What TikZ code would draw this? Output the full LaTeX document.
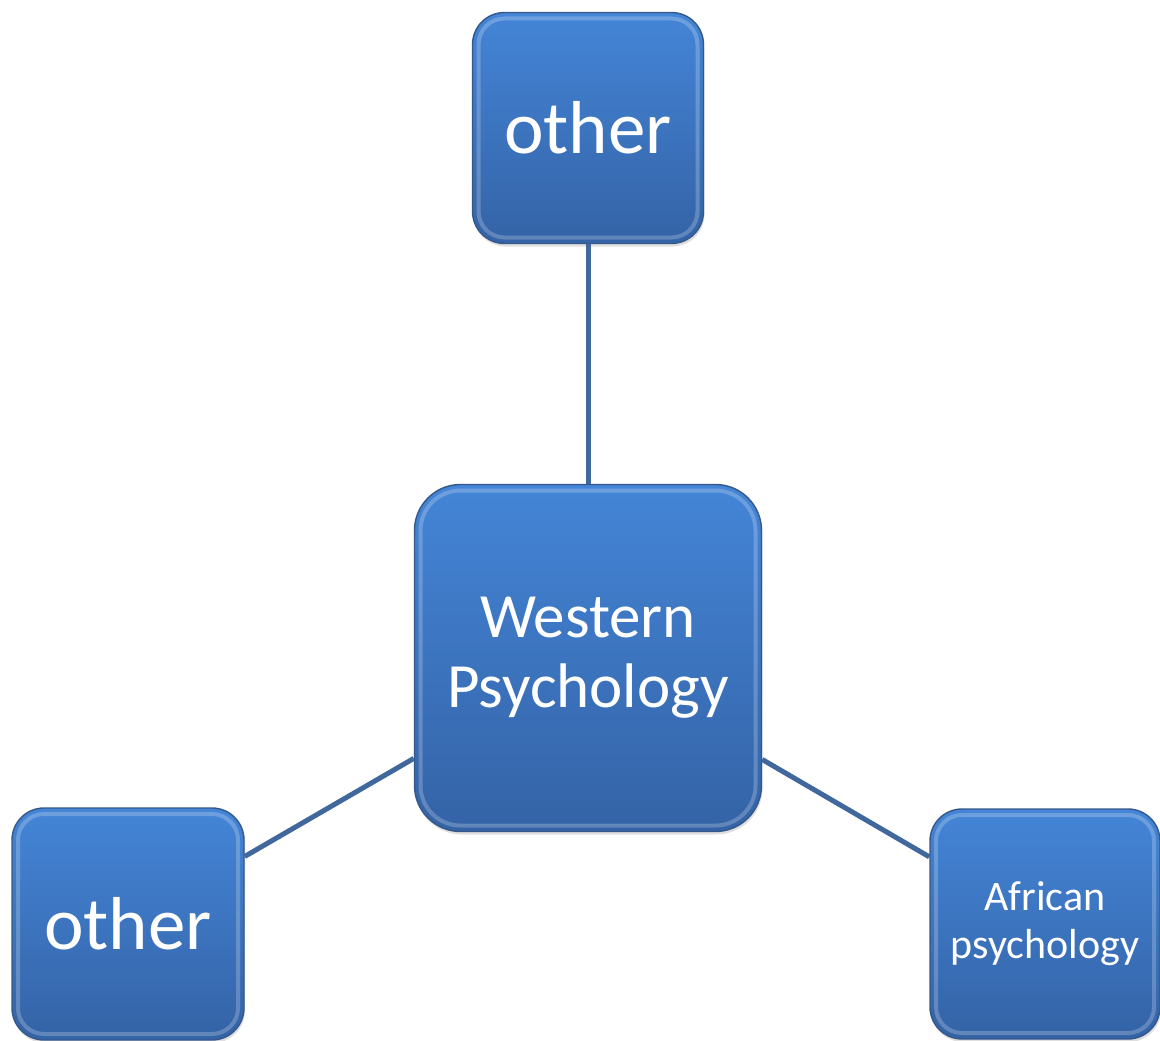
\documentclass[tikz,border=0pt]{standalone}
\usepackage{fontspec}
\setmainfont{Carlito}
\usetikzlibrary{shadows}
\definecolor{boxtop}{HTML}{4485D7}
\definecolor{boxbot}{HTML}{3463A6}
\definecolor{boxrim}{HTML}{35588A}
\definecolor{linkcol}{HTML}{40689C}
\tikzset{
  box/.style={rectangle,rounded corners=#1,draw=boxrim,line width=1.4pt,
    top color=boxtop,bottom color=boxbot,text=white,align=center,
    inner sep=0pt,drop shadow={opacity=0.25,shadow xshift=1pt,shadow yshift=-3pt},
    path picture={
      \draw [white,opacity=0.22,line width=4pt,rounded corners=#1-6pt]
        ([shift={(6pt,6pt)}]path picture bounding box.south west) rectangle
        ([shift={(-6pt,-6pt)}]path picture bounding box.north east);}},
  link/.style={draw=linkcol,line width=5pt}
}
\begin{document}
\begin{tikzpicture}[x=1pt,y=-1pt]
\useasboundingbox (0,0) rectangle (1160,1041);
\node [box=32pt,minimum size=231pt,font=\fontsize{75}{90}\selectfont] (t) at (588,128) {other};
\node [box=46pt,minimum size=347pt,font=\fontsize{63}{70}\selectfont] (w) at (588,658) {Western\\Psychology};
\node [box=32pt,minimum size=232pt,font=\fontsize{75}{90}\selectfont] (l) at (128,924) {other};
\node [box=32pt,minimum size=230pt,font=\fontsize{42}{48}\selectfont] (a) at (1045,924) {African\\psychology};
\draw [link] (t) -- (w);
\draw [link] (l) -- (w);
\draw [link] (w) -- (a);
\end{tikzpicture}
\end{document}
